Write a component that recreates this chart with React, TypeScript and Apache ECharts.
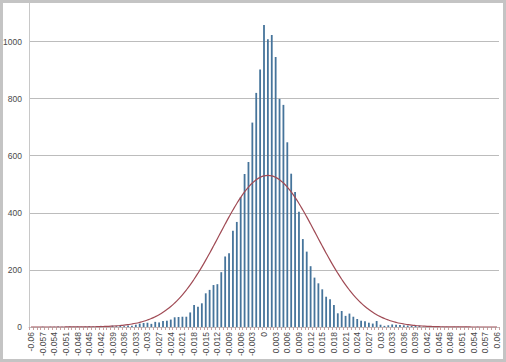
import React, { useEffect, useRef } from "react";
import * as echarts from "echarts";

// Bin centres: -0.06 .. 0.06 step 0.001 (121 bins)
const categories: string[] = [
  "-0.06","-0.059","-0.058","-0.057","-0.056","-0.055","-0.054","-0.053","-0.052","-0.051",
  "-0.05","-0.049","-0.048","-0.047","-0.046","-0.045","-0.044","-0.043","-0.042","-0.041",
  "-0.04","-0.039","-0.038","-0.037","-0.036","-0.035","-0.034","-0.033","-0.032","-0.031",
  "-0.03","-0.029","-0.028","-0.027","-0.026","-0.025","-0.024","-0.023","-0.022","-0.021",
  "-0.02","-0.019","-0.018","-0.017","-0.016","-0.015","-0.014","-0.013","-0.012","-0.011",
  "-0.01","-0.009","-0.008","-0.007","-0.006","-0.005","-0.004","-0.003","-0.002","-0.001",
  "0",
  "0.001","0.002","0.003","0.004","0.005","0.006","0.007","0.008","0.009","0.01",
  "0.011","0.012","0.013","0.014","0.015","0.016","0.017","0.018","0.019","0.02",
  "0.021","0.022","0.023","0.024","0.025","0.026","0.027","0.028","0.029","0.03",
  "0.031","0.032","0.033","0.034","0.035","0.036","0.037","0.038","0.039","0.04",
  "0.041","0.042","0.043","0.044","0.045","0.046","0.047","0.048","0.049","0.05",
  "0.051","0.052","0.053","0.054","0.055","0.056","0.057","0.058","0.059","0.06",
];

// Histogram counts
const frequency: number[] = [
  0, 0, 0, 1, 0, 1, 1, 2, 1, 1,
  2, 1, 2, 1, 2, 3, 2, 3, 4, 3,
  2, 5, 3, 4, 3, 5, 4, 8, 12, 14,
  15, 11, 18, 16, 21, 22, 26, 34, 35, 36,
  36, 51, 77, 71, 83, 118, 130, 147, 150, 192,
  247, 258, 337, 368, 455, 536, 578, 716, 820, 902,
  1058,
  1008, 1023, 946, 799, 778, 647, 537, 473, 404, 308,
  264, 213, 173, 153, 132, 106, 97, 77, 48, 56,
  39, 47, 36, 28, 22, 20, 15, 12, 21, 8,
  4, 6, 9, 8, 7, 6, 5, 4, 5, 4,
  1, 2, 1, 1, 2, 1, 1, 0, 1, 1,
  0, 1, 0, 0, 1, 0, 0, 0, 0, 0,
];

// Fitted normal curve
const normalCurve: number[] = [
  0, 0, 0, 0, 0, 0, 0, 0, 0, 0.1,
  0.1, 0.2, 0.2, 0.3, 0.4, 0.6, 0.8, 1.1, 1.4, 1.9,
  2.4, 3.2, 4.1, 5.2, 6.6, 8.4, 10.5, 13.1, 16.3, 20.0,
  24.5, 29.8, 36.0, 43.2, 51.5, 61.1, 71.9, 84.1, 97.7, 112.8,
  129.5, 147.6, 167.3, 188.3, 210.6, 234.1, 258.5, 283.6, 309.2, 335.0,
  360.5, 385.6, 409.8, 432.7, 453.9, 473.2, 490.2, 504.5, 515.9, 524.2,
  529.3,
  531, 529.3, 524.2, 515.9, 504.5, 490.2, 473.2, 453.9, 432.7, 409.8,
  385.6, 360.5, 335.0, 309.2, 283.6, 258.5, 234.1, 210.6, 188.3, 167.3,
  147.6, 129.5, 112.8, 97.7, 84.1, 71.9, 61.1, 51.5, 43.2, 36.0,
  29.8, 24.5, 20.0, 16.3, 13.1, 10.5, 8.4, 6.6, 5.2, 4.1,
  3.2, 2.4, 1.9, 1.4, 1.1, 0.8, 0.6, 0.4, 0.3, 0.2,
  0.2, 0.1, 0.1, 0, 0, 0, 0, 0, 0, 0,
];

const yTicks: number[] = [0, 200, 400, 600, 800, 1000, 1200];

// The chart canvas is shifted up so that the top (1200) gridline falls outside the page
const SHIFT = 20;

export default function App() {
  const ref = useRef<HTMLDivElement>(null);
  useEffect(() => {
    document.body.style.margin = "0";
    if (!ref.current) return;
    const chart = echarts.init(ref.current, null, { renderer: "svg" });
    const font = "'Liberation Sans', Arial, sans-serif";
    chart.setOption({
      animation: false,
      backgroundColor: "#ffffff",
      grid: { left: 29, right: 7, top: SHIFT - 15.6, bottom: 35, containLabel: false },
      xAxis: {
        type: "category",
        data: categories,
        boundaryGap: true,
        axisLine: { show: true, lineStyle: { color: "#bdbdbd", width: 1 } },
        axisTick: { show: true, interval: 0, length: 3, lineStyle: { color: "#c9a0a0", width: 1 } },
        axisLabel: {
          interval: 2,
          rotate: 90,
          fontSize: 8.5,
          color: "#4a4a4a",
          fontFamily: font,
          margin: 5,
        },
        splitLine: { show: false },
      },
      yAxis: {
        type: "value",
        min: 0,
        max: yTicks[yTicks.length - 1],
        interval: 200,
        axisLine: { show: true, lineStyle: { color: "#c8c8c8", width: 1 } },
        axisTick: { show: false },
        axisLabel: {
          fontSize: 8.5,
          color: "#4a4a4a",
          fontFamily: font,
          margin: 7,
          showMaxLabel: false,
          formatter: (v: number) => String(v),
        },
        splitLine: { show: true, lineStyle: { color: "#bcbcbc", width: 1 } },
      },
      series: [
        {
          type: "bar",
          data: frequency,
          barWidth: 1.8,
          itemStyle: { color: "#46749b" },
          clip: false,
        },
        {
          type: "line",
          data: normalCurve,
          smooth: true,
          showSymbol: false,
          symbol: "none",
          lineStyle: { color: "#a04b55", width: 1.2 },
          z: 5,
        },
      ],
      graphic: [
        {
          type: "rect",
          z: 100,
          shape: { x: 1.5, y: SHIFT + 1.5, width: 503, height: 359 },
          style: { fill: "none", stroke: "#c4c4c4", lineWidth: 3 },
          silent: true,
        },
      ],
    });
    return () => chart.dispose();
  }, []);
  return (
    <div style={{ width: 506, height: 362, position: "absolute", left: 0, top: 0, overflow: "hidden" }}>
      <div ref={ref} style={{ width: 506, height: 362 + SHIFT, position: "absolute", left: 0, top: -SHIFT }} />
    </div>
  );
}
